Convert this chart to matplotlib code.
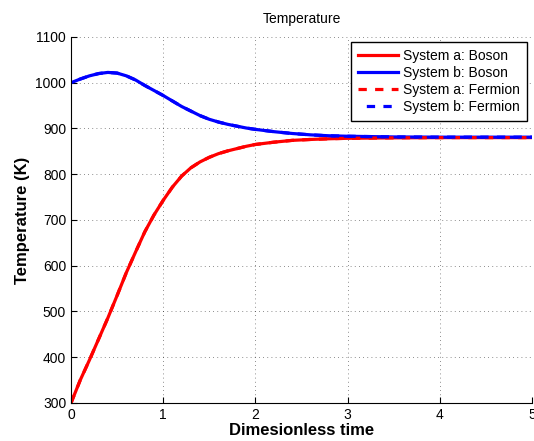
import numpy as np
import matplotlib
matplotlib.use("Agg")
import matplotlib.pyplot as plt

# values
time = [0, 0.1, 0.2, 0.3, 0.4, 0.5, 0.6, 0.7, 0.8, 0.9, 1.0, 1.1, 1.2, 1.3, 1.4, 1.5,
        1.6, 1.7, 1.8, 1.9, 2.0, 2.2, 2.4, 2.6, 2.8, 3.0, 3.5, 4.0, 4.5, 5.0]
a_boson = [300, 350, 394, 440, 486, 535, 585, 630, 674, 711, 743, 772, 796, 814, 827, 837,
           845, 851, 856, 861, 865, 870, 874, 876, 877.5, 878.5, 879.5, 880, 880, 880]
b_boson = [1000, 1008, 1015, 1020, 1022.5, 1021, 1015, 1006, 994, 983, 972, 960, 948, 938,
           928, 920, 914, 909, 905, 901, 898, 893, 889, 886, 884, 883, 881.5, 881, 881, 881]
# fermion curves sit on top of the boson ones in the picture
a_fermion = list(a_boson)
b_fermion = list(b_boson)

plt.rcParams["font.family"] = ["Liberation Sans", "DejaVu Sans"]

fig = plt.figure(figsize=(5.34, 4.41), dpi=100)
ax = fig.add_axes([0.133, 0.0862, 0.8633, 0.830])

LW = 2.3
ax.plot(time, a_boson, color="red", lw=LW, label="System a: Boson")
ax.plot(time, b_boson, color="blue", lw=LW, label="System b: Boson")
ax.plot(time, a_fermion, color="red", lw=LW, ls=(0, (2.6, 2.6)), label="System a: Fermion")
ax.plot(time, b_fermion, color="blue", lw=LW, ls=(2.6, (2.6, 2.6)), label="System b: Fermion")

ax.set_xlim(0, 5)
ax.set_ylim(300, 1100)
ax.set_xticks(range(0, 6))
ax.set_yticks(range(300, 1101, 100))
ax.grid(True, color="black", ls=(0, (1, 4)), lw=0.6, alpha=0.6)
ax.tick_params(direction="in", length=4, labelsize=10, colors="black")
ax.spines["top"].set_visible(False)
ax.spines["right"].set_visible(False)

ax.set_title("Temperature", fontsize=10, pad=10)
ax.set_xlabel("Dimesionless time", fontsize=12, fontweight="bold", labelpad=1)
ax.set_ylabel("Temperature (K)", fontsize=12, fontweight="bold", labelpad=4)

leg = ax.legend(loc="upper right", fontsize=10, handlelength=2.95, fancybox=False,
                framealpha=1, edgecolor="black", borderpad=0.5, labelspacing=0.22,
                handletextpad=0.35, borderaxespad=0.35)
leg.get_frame().set_linewidth(1.0)

fig.savefig("out.png", dpi=100)
